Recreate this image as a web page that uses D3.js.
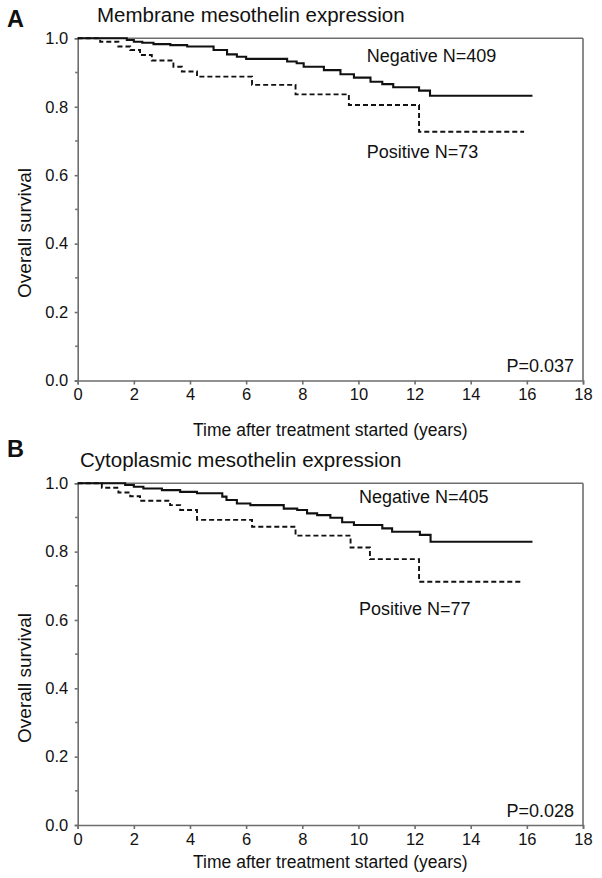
<!DOCTYPE html>
<html><head><meta charset="utf-8">
<script src="https://cdn.jsdelivr.net/npm/d3@7"></script>
<style>
html,body{margin:0;padding:0;background:#fff;}
svg{display:block;font-family:"Liberation Sans",Arial,sans-serif;}
</style></head>
<body>
<script>
// ---- data ----
const xTicks = [0,2,4,6,8,10,12,14,16,18];
const yTicks = [0,0.2,0.4,0.6,0.8,1.0];
const yMinorTicks = [0.1,0.3,0.5,0.7,0.9];

const panelLetters = ["A","B"];
const panelTitles = ["Membrane mesothelin expression","Cytoplasmic mesothelin expression"];
const negLabels = ["Negative N=409","Negative N=405"];
const posLabels = ["Positive N=73","Positive N=77"];
const pLabels = ["P=0.037","P=0.028"];
const xTitle = "Time after treatment started (years)";
const yTitle = "Overall survival";

// Panel A - negative (solid)
const aNegTime = [0,1.75,2.0,2.3,2.7,3.3,3.9,4.84,5.32,5.67,6.0,7.46,7.8,8.05,8.77,9.36,9.84,10.43,10.85,11.24,12.16,12.55,16.2];
const aNegSurv = [1.0,0.995,0.99,0.987,0.983,0.98,0.976,0.966,0.953,0.946,0.94,0.932,0.927,0.917,0.907,0.895,0.885,0.873,0.866,0.857,0.847,0.832,0.832];
// Panel A - positive (dashed)
const aPosTime = [0,0.8,1.45,1.87,2.22,2.64,3.41,3.71,4.25,6.21,7.76,9.66,12.16,15.9];
const aPosSurv = [1.0,0.99,0.976,0.966,0.951,0.935,0.917,0.903,0.888,0.864,0.836,0.805,0.727,0.727];
// Panel B - negative (solid)
const bNegTime = [0,1.69,2.0,2.34,3.0,3.65,4.25,5.15,5.3,5.67,6.15,7.34,7.82,8.17,8.53,9.0,9.42,9.84,10.85,11.2,12.19,12.57,16.2];
const bNegSurv = [1.0,0.995,0.99,0.985,0.98,0.975,0.971,0.961,0.951,0.941,0.936,0.926,0.922,0.912,0.907,0.899,0.886,0.878,0.868,0.858,0.849,0.829,0.829];
// Panel B - positive (dashed)
const bPosTime = [0,0.86,1.45,1.87,2.22,3.29,3.65,4.25,6.21,7.76,9.72,10.41,12.16,15.85];
const bPosSurv = [1.0,0.987,0.973,0.962,0.949,0.936,0.922,0.893,0.873,0.847,0.812,0.778,0.712,0.712];

const negTimes = [aNegTime,bNegTime], negSurvs = [aNegSurv,bNegSurv];
const posTimes = [aPosTime,bPosTime], posSurvs = [aPosSurv,bPosSurv];

// ---- layout ----
const W = 602, H = 878;
const axisColor = "#6e6e6e";
const panels = [
  {top:38.3, bottom:380.5, letterY:27, titleX:97, titleY:22.3, negX:366.7, negY:62, posX:366.7, posY:158, pY:372, xTitleY:436, yTitleY:233},
  {top:483.3, bottom:825, letterY:457, titleX:80, titleY:467.3, negX:359, negY:503, posX:359, posY:614.5, pY:816.5, xTitleY:868, yTitleY:678}
];
const left = 77.7, right = 583;

const svg = d3.select("body").append("svg").attr("width",W).attr("height",H);
const x = d3.scaleLinear().domain([0,18]).range([left,right]);

function addText(g, str, tx, ty, size, anchor, weight) {
  const t = g.append("text").attr("x",tx).attr("y",ty).text(str)
    .attr("font-size", size).attr("fill", "#111");
  if (anchor) t.attr("text-anchor", anchor);
  if (weight) t.attr("font-weight", weight);
  return t;
}

panels.forEach((p, i) => {
  const y = d3.scaleLinear().domain([0,1]).range([p.bottom,p.top]);
  const g = svg.append("g");

  // frame top & right
  g.append("line").attr("x1",left).attr("x2",right).attr("y1",p.top).attr("y2",p.top)
    .attr("stroke",axisColor).attr("stroke-width",1.6);
  g.append("line").attr("x1",right).attr("x2",right).attr("y1",p.top).attr("y2",p.bottom)
    .attr("stroke",axisColor).attr("stroke-width",1.6);

  // y axis
  const ya = g.append("g").attr("transform",`translate(${left},0)`)
    .call(d3.axisLeft(y).tickValues(yTicks).tickFormat(d3.format(".1f")).tickSize(3).tickPadding(6.5));
  ya.append("g").selectAll("line").data(yMinorTicks).join("line")
    .attr("x1",-2.5).attr("x2",0).attr("y1",d=>y(d)).attr("y2",d=>y(d));
  ya.selectAll("text").attr("font-size",16.5).attr("fill","#111")
    .attr("font-family","Liberation Sans, Arial, sans-serif");
  ya.selectAll("path, line").attr("stroke",axisColor).attr("stroke-width",1.6);

  // x axis
  const xa = g.append("g").attr("transform",`translate(0,${p.bottom})`)
    .call(d3.axisBottom(x).tickValues(xTicks).tickFormat(d3.format("d")).tickSize(4).tickPadding(4));
  xa.selectAll("text").attr("font-size",16.5).attr("fill","#111")
    .attr("font-family","Liberation Sans, Arial, sans-serif");
  xa.selectAll("path, line").attr("stroke",axisColor).attr("stroke-width",1.6);

  // curves
  const line = d3.line().x(d=>x(d[0])).y(d=>y(d[1])).curve(d3.curveStepAfter);
  const negData = negTimes[i].map((t,k)=>[t,negSurvs[i][k]]);
  const posData = posTimes[i].map((t,k)=>[t,posSurvs[i][k]]);
  g.append("path").attr("d",line(posData)).attr("fill","none").attr("stroke","#111")
    .attr("stroke-width",1.9).attr("stroke-dasharray","5,3");
  g.append("path").attr("d",line(negData)).attr("fill","none").attr("stroke","#111")
    .attr("stroke-width",2.1);

  // texts
  addText(g, panelLetters[i], 7, p.letterY, 23.5, null, "bold");
  addText(g, panelTitles[i], p.titleX, p.titleY, 20.5);
  addText(g, negLabels[i], p.negX, p.negY, 18);
  addText(g, posLabels[i], p.posX, p.posY, 18);
  addText(g, pLabels[i], 574, p.pY, 18, "end");
  addText(g, xTitle, (left+right)/2, p.xTitleY, 17.5, "middle");
  g.append("text")
    .attr("transform",`translate(31,${p.yTitleY}) rotate(-90)`)
    .attr("text-anchor","middle").attr("font-size",19).attr("fill","#111")
    .text(yTitle);
});
</script>
</body></html>
